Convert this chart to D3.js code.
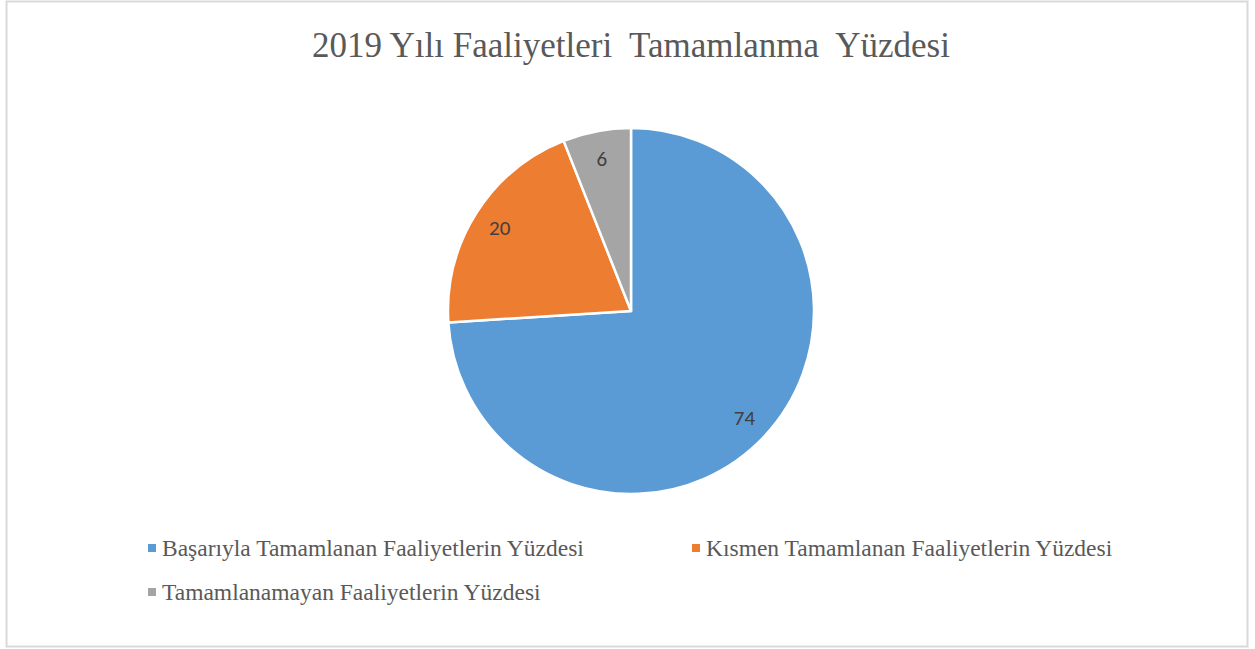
<!DOCTYPE html>
<html>
<head>
<meta charset="utf-8">
<script src="https://cdn.jsdelivr.net/npm/d3@7"></script>
<style>
  body { margin: 0; background: #fff; }
</style>
</head>
<body>
<svg></svg>
<script>
var title = "2019 Yılı Faaliyetleri\u00a0 Tamamlanma\u00a0 Yüzdesi";
var categories = [
    "Başarıyla Tamamlanan Faaliyetlerin Yüzdesi",
    "Kısmen Tamamlanan Faaliyetlerin Yüzdesi",
    "Tamamlanamayan Faaliyetlerin Yüzdesi"
];
var values = [74, 20, 6];
var colors = ["#5b9bd5", "#ed7d31", "#a5a5a5"];

var svgWidth = 1255, svgHeight = 649;
var svg = d3.select("svg")
    .attr("width", svgWidth)
    .attr("height", svgHeight);

// chart border
svg.append("rect")
    .attr("x", 6.5).attr("y", 1.5)
    .attr("width", 1241).attr("height", 645)
    .attr("fill", "#fff")
    .attr("stroke", "#d9d9d9")
    .attr("stroke-width", 2);

svg.append("text")
    .attr("x", 631).attr("y", 57)
    .attr("text-anchor", "middle")
    .attr("font-family", "'Liberation Serif', 'Times New Roman', serif")
    .attr("font-size", 35)
    .attr("fill", "#595959")
    .text(title);

var cx = 631, cy = 311, radius = 183;
var g = svg.append("g")
    .attr("transform", "translate(" + cx + "," + cy + ")");

var color = d3.scaleOrdinal().domain(categories).range(colors);

var pie = d3.pie().sort(null).value(function(d) { return d.value; });
var pieData = pie(categories.map(function(c, i) { return { name: c, value: values[i] }; }));

var path = d3.arc().outerRadius(radius).innerRadius(0);
var label = d3.arc().outerRadius(radius * 0.85).innerRadius(radius * 0.85);

var arc = g.selectAll(".arc")
    .data(pieData)
    .enter()
    .append("g");

arc.append("path")
    .attr("d", path)
    .attr("fill", function(d) { return color(d.data.name); })
    .attr("stroke", "#fff")
    .attr("stroke-width", 2.5)
    .attr("stroke-linejoin", "round");

arc.append("text")
    .attr("transform", function(d) { return "translate(" + label.centroid(d) + ")"; })
    .attr("text-anchor", "middle")
    .attr("dy", "0.35em")
    .attr("font-family", "Carlito, 'Open Sans', sans-serif")
    .attr("font-size", 21)
    .attr("fill", "#404040")
    .text(function(d) { return d.data.value; });

// legend
var legendPos = [[148, 548], [692, 548], [148, 592]];
var legend = svg.selectAll(".legend")
    .data(categories)
    .enter()
    .append("g")
    .attr("transform", function(d, i) { return "translate(" + legendPos[i][0] + "," + legendPos[i][1] + ")"; });

legend.append("rect")
    .attr("x", 0).attr("y", -4)
    .attr("width", 8).attr("height", 8)
    .attr("fill", function(d) { return color(d); });

legend.append("text")
    .attr("x", 14)
    .attr("dy", "0.35em")
    .attr("font-family", "'Liberation Serif', 'Times New Roman', serif")
    .attr("font-size", 23.5)
    .attr("fill", "#595959")
    .text(function(d) { return d; });
</script>
</body>
</html>
